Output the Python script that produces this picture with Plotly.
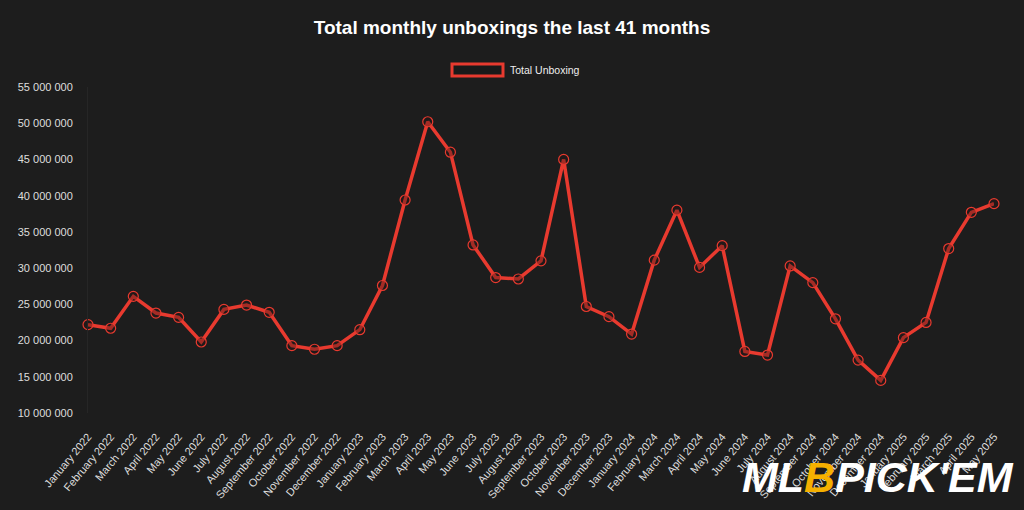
import plotly.graph_objects as go

months = ["January", "February", "March", "April", "May", "June", "July", "August",
          "September", "October", "November", "December"]
categories = [f"{months[i % 12]} {2022 + i // 12}" for i in range(41)]

unboxings_millions = [
    22.2, 21.7, 26.1, 23.8, 23.2, 19.8, 24.3, 24.9, 23.9, 19.3, 18.8, 19.3,
    21.5, 27.6, 39.4, 50.2, 46.0, 33.2, 28.7, 28.5, 31.0, 45.0, 24.7, 23.3,
    20.9, 31.1, 38.0, 30.1, 33.1, 18.5, 18.0, 30.3, 28.0, 23.0, 17.3, 14.5,
    20.4, 22.5, 32.7, 37.7, 38.9,
]
values = [v * 1_000_000 for v in unboxings_millions]

RED = "#e83a2f"
BG = "#1d1d1d"

fig = go.Figure()
fig.add_trace(go.Scatter(
    x=list(range(len(categories))), y=values, mode="lines+markers",
    name="Total Unboxing",
    line=dict(color=RED, width=3.5),
    marker=dict(symbol="circle", size=10, color="rgba(40,20,20,0.35)",
                line=dict(color=RED, width=1.2)),
    cliponaxis=False, showlegend=False,
))

L, R, T, B = 88, 30, 87, 97
PW = 1024 - L - R
PH = 413 - T
fig.update_layout(
    width=1024, height=510,
    paper_bgcolor=BG, plot_bgcolor=BG,
    margin=dict(l=L, r=R, t=T, b=B),
    separators=". ",
    font=dict(family="Liberation Sans, Arial, sans-serif", color="#dddddd"),
    title=dict(text="<b>Total monthly unboxings the last 41 months</b>",
               x=0.5, xanchor="center", xref="container", y=1 - 27 / 510, yanchor="middle",
               yref="container",
               font=dict(size=19, color="#ffffff")),
    xaxis=dict(
        tickmode="array", tickvals=list(range(len(categories))), ticktext=categories,
        range=[0, 40], tickangle=-50, showgrid=False, zeroline=False,
        showline=False, tickfont=dict(size=11, color="#dddddd"),
        ticks="outside", ticklen=12, tickcolor=BG, automargin=False,
    ),
    yaxis=dict(
        range=[10_000_000, 55_000_000], dtick=5_000_000, tickformat=",d",
        showgrid=False, zeroline=False, showline=True, linecolor="#262626", linewidth=1,
        tickfont=dict(size=11, color="#dddddd"), ticks="outside", ticklen=12,
        tickcolor=BG, automargin=False,
    ),
    showlegend=False,
)

# legend box drawn like the original
fig.add_shape(type="rect", xref="paper", yref="paper",
              x0=(452 - L) / PW, x1=(503 - L) / PW,
              y0=(413 - 76) / PH, y1=(413 - 64) / PH,
              line=dict(color=RED, width=3), fillcolor="#1a1a1a")
fig.add_annotation(text="Total Unboxing", xref="paper", yref="paper",
                   x=(508 - L) / PW, y=(413 - 70) / PH,
                   xanchor="left", yanchor="middle", showarrow=False,
                   font=dict(size=10.5, color="#eeeeee"))

# watermark
fig.add_annotation(
    text="<b><i>ML<span style='color:#f5b000'>B</span>PICK'EM</i></b>",
    xref="paper", yref="paper",
    x=(1016 - L) / PW, y=(413 - 503) / PH,
    xanchor="right", yanchor="bottom", showarrow=False,
    font=dict(size=43, color="#ffffff", family="Liberation Sans, Arial, sans-serif"),
)

fig.write_html("out.html")
